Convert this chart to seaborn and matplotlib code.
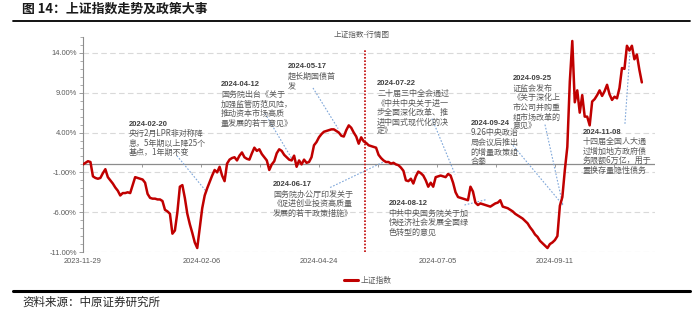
import matplotlib
matplotlib.use("Agg")
import matplotlib.pyplot as plt
import seaborn as sns
import numpy as np
import pandas as pd
from matplotlib.lines import Line2D
from matplotlib.ticker import FixedLocator, MultipleLocator

# ---------------- data ----------------
series_name = "上证指数"
# cumulative change of the SSE Composite vs 2023-11-29 (%), one value per trading day
values = [
    0.0, 0.2, 0.4, 0.3, -1.5, -1.7, -1.8, -1.7, -1.1, -0.6,
    -1.6, -2.0, -2.4, -2.9, -3.3, -3.9, -3.6, -3.6, -3.5, -3.6,
    -2.6, -1.6, -1.7, -1.8, -1.9, -2.3, -3.7, -4.2, -4.3, -4.3,
    -4.4, -4.4, -4.6, -5.7, -5.9, -6.2, -8.7, -8.3, -6.0, -2.8,
    -2.6, -4.2, -6.2, -7.5, -8.6, -9.8, -10.5, -8.0, -5.5, -3.9,
    -3.0, -2.2, -1.4, -0.7, -1.0, -0.3, -1.4, -2.1, 0.1, 0.6,
    0.8, 0.9, 0.5, 1.1, 1.5, 0.9, 0.7, 0.6, 1.4, 2.1,
    1.7, 1.9, 1.3, 0.9, 0.5, -0.7, 0.0, 0.4, 1.4, 1.9,
    1.7, 1.2, 0.9, 0.6, 0.5, 1.1, -0.3, 0.5, 0.0, 0.6,
    0.2, 0.3, 0.9, 2.4, 2.8, 3.4, 3.8, 4.1, 4.2, 4.3,
    4.4, 4.4, 4.2, 4.0, 3.6, 3.5, 4.3, 4.9, 4.6, 4.0,
    3.5, 2.6, 3.4, 2.9, 2.7, 2.4, 2.3, 2.2, 2.1, 1.2,
    0.8, 0.5, 0.3, 0.3, 0.1, 0.2, 0.0, -0.1, -0.4, -0.8,
    -2.0, -2.1, -1.8, -2.4, -1.5, -0.9, -1.1, -1.4, -2.0, -2.8,
    -2.3, -2.8, -1.6, -1.5, -1.4, -1.5, -1.6, -1.2, -1.4, -2.3,
    -3.5, -4.1, -4.2, -4.3, -4.4, -4.5, -2.8, -3.4, -4.8, -5.1,
    -4.9, -5.0, -5.1, -5.2, -5.3, -5.1, -4.9, -4.8, -4.5, -5.3,
    -5.4, -5.5, -5.7, -5.9, -6.2, -6.4, -6.6, -6.8, -7.1, -7.4,
    -7.9, -8.3, -8.8, -9.1, -9.6, -9.9, -10.2, -10.5, -10.0, -9.8,
    -9.5, -9.0, -5.2, -4.1, -0.7, 2.2, 10.4, 15.5, 7.8, 9.3,
    6.5, 8.7, 6.0, 6.0, 4.9, 7.9, 8.2, 8.7, 9.3, 8.6,
    9.2, 10.0, 8.8, 8.1, 8.5, 8.3, 9.6, 12.1, 12.0, 14.9,
    14.3, 14.9, 13.2, 13.8, 11.9, 10.3,
]
day_index = list(range(len(values)))
x_tick_labels = ["2023-11-29", "2024-02-06", "2024-04-24", "2024-07-05", "2024-09-11"]
x_tick_days = [0, 48, 95, 143, 190]
y_ticks = [-11, -6, -1, 4, 9, 14]

annotation_texts = [
    ("2024-02-20", "央行2月LPR非对称降\n息，5年期以上降25个\n基点，1年期不变"),
    ("2024-04-12", "国务院出台《关于\n加强监管防范风险，\n推动资本市场高质\n量发展的若干意见》"),
    ("2024-05-17", "超长期国债首\n发"),
    ("2024-06-17", "国务院办公厅印发关于\n《促进创业投资高质量\n发展的若干政策措施》"),
    ("2024-07-22", "二十届三中全会通过\n《中共中央关于进一\n步全面深化改革、推\n进中国式现代化的决\n定》"),
    ("2024-08-12", "中共中央国务院关于加\n快经济社会发展全面绿\n色转型的意见"),
    ("2024-09-24", "9.26中央政治\n局会议后推出\n的增量政策组\n合拳"),
    ("2024-09-25", "证监会发布\n《关于深化上\n市公司并购重\n组市场改革的\n意见》"),
    ("2024-11-08", "十四届全国人大通\n过增加地方政府债\n务限额6万亿，用于\n置换存量隐性债务"),
]

# ---------------- layout (positions in data coords) ----------------
text_pos = [(18.5, 5.5), (55.6, 10.45), (82.5, 12.7), (76.5, -2.1), (118.4, 10.55),
            (123.0, -4.45), (156.0, 5.6), (173.1, 11.2), (201.3, 4.5)]
connectors = [((37.8, 1.1), (49.9, -3.5)),
              ((73.3, 6.4), (84.5, 0.5)),
              ((92.6, 9.6), (102.7, 4.5)),
              ((99.5, -2.9), (121.6, 0.4)),
              ((140.5, 5.75), (149.8, -1.25)),
              ((153.6, -5.1), (162.6, -4.4)),
              ((173.1, 2.4), (193.2, -5.1)),
              ((186.0, 5.0), (193.2, -5.1)),
              ((218.2, 5.1), (220.2, 14.0))]
VLINE_X = 113.5

# ---------------- style ----------------
sns.set_theme(style="white")
plt.rcParams["font.family"] = ["Noto Sans CJK SC", "DejaVu Sans"]
plt.rcParams["axes.unicode_minus"] = False

RED = "#c00000"
GRID = "#d9d9d9"
AXC = "#8c8c8c"
TXT = "#595959"

fig = plt.figure(figsize=(7.0, 3.14), dpi=100)
W, H = 700, 314
left, right, top, bottom = 83, 655, 37, 252
ax = fig.add_axes([left / W, 1 - bottom / H, (right - left) / W, (bottom - top) / H])

df = pd.DataFrame({"day": day_index, "chg": values})
sns.lineplot(data=df, x="day", y="chg", ax=ax, color=RED, linewidth=1.8,
             label=series_name, zorder=5)

ax.set_xlim(0, 230.3)
ax.set_ylim(-11, 16)
ax.set_xlabel("")
ax.set_ylabel("")

# gridlines
for yv in y_ticks:
    ax.axhline(yv, color=GRID, lw=0.8, ls=(0, (5, 3)), zorder=1)
ax.axhline(0, color=AXC, lw=0.9, zorder=2)

# y axis
ax.yaxis.set_major_locator(FixedLocator(y_ticks))
ax.yaxis.set_minor_locator(MultipleLocator(1))
ax.set_yticklabels([f"{v:.2f}%" for v in y_ticks], fontsize=5.4, color=TXT,
                   family=["Liberation Sans", "DejaVu Sans"])
ax.tick_params(axis="y", which="major", length=3, width=0.6, color=AXC, direction="out", pad=1.5, left=True)
ax.tick_params(axis="y", which="minor", length=2, width=0.5, color=AXC, direction="out", left=True)

for s in ["top", "right", "bottom"]:
    ax.spines[s].set_visible(False)
ax.spines["left"].set_color(AXC)
ax.spines["left"].set_linewidth(0.8)

# x labels at the bottom
ax.set_xticks(x_tick_days)
ax.set_xticklabels(x_tick_labels, fontsize=5.4, color=TXT, family=["Liberation Sans", "DejaVu Sans"])
ax.tick_params(axis="x", length=0, pad=4)

# small ticks on the zero line
sec = ax.secondary_xaxis(0, transform=ax.transData)
sec.set_xticks(np.arange(0, 230, 23.75))
sec.set_xticklabels([])
sec.tick_params(axis="x", length=2, width=0.6, color=AXC, direction="out")
sec.spines["bottom"].set_visible(False)

# red dotted vertical marker
ax.vlines(VLINE_X, -11, 14.5, colors=RED, linestyles=(0, (1, 1)), lw=1.2, zorder=4)

# annotations
for (date, body), (tx, ty) in zip(annotation_texts, text_pos):
    ax.text(tx, ty, date, fontsize=5.5, color="#404040", fontweight="bold",
            va="top", ha="left", zorder=6, family=["Liberation Sans", "DejaVu Sans"])
    ax.annotate(body, xy=(tx, ty), xytext=(0, -6.2), textcoords="offset points",
                fontsize=5.8, color=TXT, va="top", ha="left", linespacing=1.08, zorder=6)
for (p0, p1) in connectors:
    ax.plot([p0[0], p1[0]], [p0[1], p1[1]], color="#7ea6d9", lw=0.8,
            ls=(0, (1.5, 1.5)), zorder=3)

# legend
leg = ax.legend(loc="center", bbox_to_anchor=(368 / W, 1 - 281 / H),
                bbox_transform=fig.transFigure, frameon=False, fontsize=5.6,
                handlelength=1.8, handletextpad=0.3)
for t in leg.get_texts():
    t.set_color(TXT)
for l in leg.get_lines():
    l.set_linewidth(2.2)

# chart title
fig.text(362 / W, 1 - 35 / H, "上证指数-行情图", fontsize=5.5, color=TXT, ha="center", va="center")

# header / footer
fig.text(22 / W, 1 - 9 / H, "图 14：上证指数走势及政策大事", fontsize=9.3, fontweight="bold",
         color="#1a1a1a", ha="left", va="center")
fig.add_artist(Line2D([13 / W, 690 / W], [1 - 21 / H, 1 - 21 / H], color="black", lw=1.3,
                      transform=fig.transFigure))
fig.add_artist(Line2D([13 / W, 690 / W], [1 - 291 / H, 1 - 291 / H], color="black", lw=2.2,
                      transform=fig.transFigure))
fig.text(22 / W, 1 - 302 / H, "资料来源：中原证券研究所", fontsize=8.3, color="#262626",
         ha="left", va="center")

fig.savefig("out.png", dpi=100)
